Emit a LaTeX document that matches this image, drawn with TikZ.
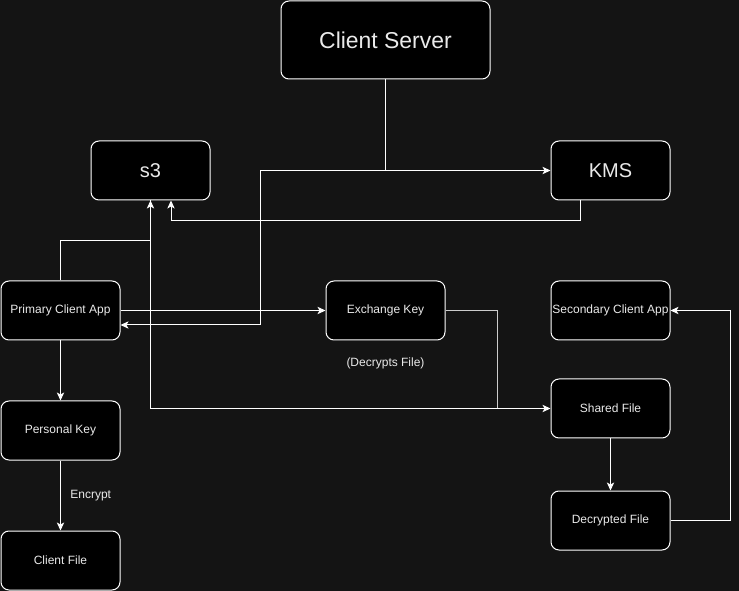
\documentclass[tikz,border=0pt]{standalone}
\usepackage{fontspec}
\setmainfont{Liberation Sans}
\usetikzlibrary{arrows.meta,calc}
\definecolor{bgc}{HTML}{141414}
\definecolor{txt}{HTML}{EAEAEA}
\tikzset{
  box/.style={draw=white, fill=black, rounded corners=6pt, line width=0.75pt,
    minimum width=89.25pt, minimum height=44.25pt, inner sep=1pt,
    text=txt, font=\fontsize{9}{11}\selectfont},
  bigbox/.style={box, font=\fontsize{15}{17}\selectfont},
  conn/.style={draw=white, line width=0.75pt},
  arr/.style={conn, -{Stealth[length=6pt,width=5.5pt,inset=1.5pt]}},
  lbl/.style={text=txt, font=\fontsize{9}{11}\selectfont, inner sep=1pt}
}
\begin{document}
\begin{tikzpicture}[x=0.75pt,y=-0.75pt]
\fill[bgc] (0,0) rectangle (739,591);
\useasboundingbox (0,0) rectangle (739,591);

\node[bigbox, minimum width=156.75pt, minimum height=58.5pt, font=\fontsize{17.2}{19}\selectfont] (cs) at (385.5,40) {Client Server};
\node[bigbox] (s3) at (150.5,170.5) {s3};
\node[bigbox] (kms) at (610.5,170.5) {KMS};
\node[box] (pca) at (60.5,310.5) {Primary Client App};
\node[box] (ek) at (385.5,310.5) {Exchange Key};
\node[box] (sca) at (610.5,310.5) {Secondary Client App};
\node[box] (sf) at (610.5,408.5) {Shared File};
\node[box] (pk) at (60.5,430.5) {Personal Key};
\node[box] (df) at (610.5,520.5) {Decrypted File};
\node[box] (cf) at (60.5,560.5) {Client File};

\node[lbl] (dec) at (385.5,363) {(Decrypts File)};

% Client Server -> KMS and -> Primary Client App
\draw[arr] (cs.south) |- (kms.west);
\draw[arr] (cs.south) |- ($(s3.east)+(50,0)$) |- ($(pca.east)+(0,14.5)$);

% KMS -> s3
\draw[arr] ($(kms.south)+(-30,0)$) -- ++(0,20) -| ($(s3.south)+(20.5,0)$);

% Primary Client App -> s3
\draw[arr] (pca.north) |- ($(s3.south)+(0,40)$) -- (s3.south);

% s3 -> Shared File
\draw[arr] (s3.south) |- (sf.west);

% Exchange Key -> Shared File
\draw[conn, draw=white!80!black] (ek.east) -| ($(sf.west)+(-53,0)$);

% Primary Client App -> Exchange Key
\draw[arr] (pca.east) -- (ek.west);

% Primary Client App -> Personal Key -> Client File
\draw[arr] (pca.south) -- (pk.north);
\draw[arr] (pk.south) -- node[lbl, right=6pt] {Encrypt} (cf.north);

% Shared File -> Decrypted File
\draw[arr] (sf.south) -- (df.north);

% Decrypted File -> Secondary Client App
\draw[arr] (df.east) -- ++(59.5,0) |- (sca.east);
\end{tikzpicture}
\end{document}
